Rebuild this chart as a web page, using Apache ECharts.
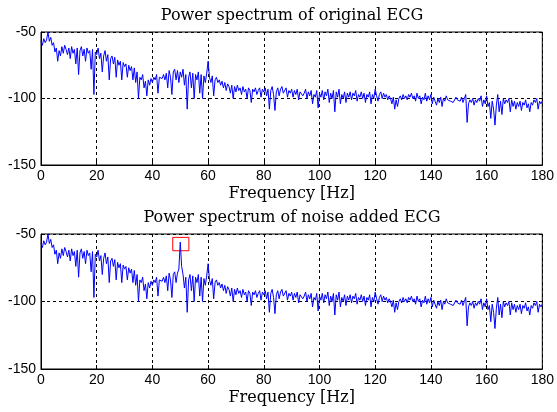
<!DOCTYPE html>
<html>
<head>
<meta charset="utf-8">
<script src="https://cdn.jsdelivr.net/npm/echarts@6/dist/echarts.min.js"></script>
<style>
  html, body { margin: 0; padding: 0; background: #fff; }
  #main { width: 557px; height: 412px; }
</style>
</head>
<body>
<div id="main"></div>
<script>
// power spectrum (dB), one value per 0.5 Hz from 0 to 180 Hz
var freqStep = 0.5;

var originalEcg = [
  -57, -60, -55, -58, -56, -50, -57, -54, -60, -58, -65, -62, -72, -64, -68, -61, -66, -60, -63, -67,
  -62, -70, -61, -66, -63, -74, -62, -82, -64, -61, -68, -63, -72, -62, -66, -64, -78, -63, -97, -65,
  -67, -62, -70, -66, -80, -68, -64, -72, -67, -86, -70, -68, -74, -69, -84, -71, -75, -72, -86, -73,
  -76, -74, -84, -75, -79, -76, -86, -77, -88, -80, -100, -84, -86, -82, -92, -87, -98, -86, -90, -85,
  -88, -84, -86, -82, -96, -84, -83, -85, -82, -86, -81, -92, -79, -84, -97, -80, -78, -86, -79, -88,
  -80, -84, -78, -90, -82, -108, -84, -80, -92, -81, -100, -82, -86, -80, -96, -82, -100, -83, -88, -81,
  -72, -84, -88, -83, -98, -86, -84, -88, -86, -90, -87, -92, -88, -94, -89, -91, -96, -90, -100, -91,
  -95, -90, -94, -92, -97, -91, -95, -93, -100, -92, -94, -103, -93, -95, -92, -97, -94, -92, -99, -93,
  -95, -92, -98, -93, -108, -94, -91, -97, -109, -95, -92, -98, -93, -91, -96, -95, -92, -99, -94, -96,
  -93, -99, -94, -97, -93, -101, -95, -94, -98, -96, -93, -100, -95, -98, -94, -104, -97, -99, -94, -107,
  -96, -99, -94, -101, -95, -98, -93, -103, -96, -100, -94, -110, -95, -99, -93, -104, -97, -100, -95, -103,
  -96, -99, -95, -101, -96, -98, -94, -102, -97, -99, -95, -100, -96, -103, -97, -99, -95, -104, -97, -100,
  -93, -98, -102, -97, -95, -100, -96, -99, -97, -101, -98, -100, -104, -99, -108, -101, -106, -100, -98, -101,
  -97, -100, -98, -101, -97, -99, -96, -100, -98, -102, -96, -100, -98, -104, -99, -101, -96, -102, -98, -101,
  -97, -104, -99, -102, -105, -100, -103, -99, -106, -100, -102, -98, -101, -100, -102, -101, -103, -102, -99, -101,
  -100, -102, -99, -103, -100, -97, -118, -104, -101, -103, -100, -105, -101, -103, -100, -102, -98, -106, -101, -104,
  -98, -106, -103, -115, -102, -108, -120, -105, -97, -110, -102, -112, -100, -104, -101, -103, -100, -110, -101, -106,
  -102, -108, -103, -106, -102, -109, -103, -105, -101, -107, -104, -110, -103, -105, -101, -103, -100, -108, -102, -104,
  -102
];

var noisyEcg = [
  -57, -60, -55, -58, -56, -50, -57, -54, -60, -58, -65, -62, -72, -64, -68, -61, -66, -60, -63, -67,
  -62, -70, -61, -66, -63, -74, -62, -82, -64, -61, -68, -63, -72, -62, -66, -64, -78, -63, -97, -65,
  -67, -62, -70, -66, -80, -68, -64, -72, -67, -86, -70, -68, -74, -69, -84, -71, -75, -72, -86, -73,
  -76, -74, -84, -75, -79, -76, -86, -77, -88, -80, -100, -84, -86, -82, -92, -87, -98, -86, -90, -85,
  -88, -84, -86, -82, -96, -84, -83, -85, -82, -86, -81, -92, -79, -84, -97, -80, -78, -86, -79, -76,
  -56, -74, -80, -90, -82, -108, -84, -80, -92, -81, -100, -82, -86, -80, -96, -82, -100, -83, -88, -81,
  -72, -84, -88, -83, -98, -86, -84, -88, -86, -90, -87, -92, -88, -94, -89, -91, -96, -90, -100, -91,
  -95, -90, -94, -92, -97, -91, -95, -93, -100, -92, -94, -103, -93, -95, -92, -97, -94, -92, -99, -93,
  -95, -92, -98, -93, -108, -94, -91, -97, -109, -95, -92, -98, -93, -91, -96, -95, -92, -99, -94, -96,
  -93, -99, -94, -97, -93, -101, -95, -94, -98, -96, -93, -100, -95, -98, -94, -104, -97, -99, -94, -107,
  -96, -99, -94, -101, -95, -98, -93, -103, -96, -100, -94, -110, -95, -99, -93, -104, -97, -100, -95, -103,
  -96, -99, -95, -101, -96, -98, -94, -102, -97, -99, -95, -100, -96, -103, -97, -99, -95, -104, -97, -100,
  -93, -98, -102, -97, -95, -100, -96, -99, -97, -101, -98, -100, -104, -99, -108, -101, -106, -100, -98, -101,
  -97, -100, -98, -101, -97, -99, -96, -100, -98, -102, -96, -100, -98, -104, -99, -101, -96, -102, -98, -101,
  -97, -104, -99, -102, -105, -100, -103, -99, -106, -100, -102, -98, -101, -100, -102, -101, -103, -102, -99, -101,
  -100, -102, -99, -103, -100, -97, -118, -104, -101, -103, -100, -105, -101, -103, -100, -102, -98, -106, -101, -104,
  -98, -106, -103, -115, -102, -108, -120, -105, -97, -110, -102, -112, -100, -104, -101, -103, -100, -110, -101, -106,
  -102, -108, -103, -106, -102, -109, -103, -105, -101, -107, -104, -110, -103, -105, -101, -103, -100, -108, -102, -104,
  -102
];

// red box around the 50 Hz interference peak (Hz, dB)
var boxHz = [47.3, 53.1];
var boxDb = [-52.5, -62.4];

var titles = ['Power spectrum of original ECG', 'Power spectrum of noise added ECG'];

function toPairs(arr) {
  return arr.map(function (v, i) { return [i * freqStep, v]; });
}

var chartDom = document.getElementById('main');
var myChart = echarts.init(chartDom);

var serif = 'DejaVu Serif';
var sans = 'Liberation Sans';

function xAxisFor(idx) {
  return {
    type: 'value', gridIndex: idx, min: 0, max: 180, interval: 20,
    name: 'Frequency [Hz]', nameLocation: 'middle', nameGap: 21,
    nameTextStyle: { fontFamily: serif, fontSize: 16, color: '#000' },
    axisLine: { lineStyle: { color: '#000' } },
    axisTick: { inside: true, length: 4, lineStyle: { color: '#000' } },
    axisLabel: { fontFamily: sans, fontSize: 14, color: '#000', margin: 4 },
    splitLine: { show: true, lineStyle: { color: '#000', type: [3, 3] } }
  };
}

function yAxisFor(idx) {
  return {
    type: 'value', gridIndex: idx, min: -150, max: -50, interval: 50,
    axisLine: { show: true, lineStyle: { color: '#000' } },
    axisTick: { show: true, inside: true, length: 4, lineStyle: { color: '#000' } },
    axisLabel: { fontFamily: sans, fontSize: 14, color: '#000', margin: 5 },
    splitLine: { show: true, lineStyle: { color: '#000', type: [3, 3] } }
  };
}

var option = {
  backgroundColor: '#fff',
  animation: false,
  title: [
    { text: titles[0], left: 287, top: 3, textAlign: 'center',
      textStyle: { fontFamily: serif, fontSize: 16, fontWeight: 'normal', color: '#000' } },
    { text: titles[1], left: 287, top: 205, textAlign: 'center',
      textStyle: { fontFamily: serif, fontSize: 16, fontWeight: 'normal', color: '#000' } }
  ],
  grid: [
    { left: 41, right: 14, top: 32, height: 133, show: true, borderColor: '#000', borderWidth: 1 },
    { left: 41, right: 14, top: 234, height: 135, show: true, borderColor: '#000', borderWidth: 1 }
  ],
  xAxis: [xAxisFor(0), xAxisFor(1)],
  yAxis: [yAxisFor(0), yAxisFor(1)],
  series: [
    {
      name: 'original', type: 'line', xAxisIndex: 0, yAxisIndex: 0,
      data: toPairs(originalEcg), symbol: 'none',
      lineStyle: { color: '#0000ff', width: 1 }
    },
    {
      name: 'noise added', type: 'line', xAxisIndex: 1, yAxisIndex: 1,
      data: toPairs(noisyEcg), symbol: 'none',
      lineStyle: { color: '#0000ff', width: 1 },
      markArea: {
        silent: true,
        itemStyle: { color: 'rgba(0,0,0,0)', borderColor: '#ff0000', borderWidth: 1 },
        data: [[{ xAxis: boxHz[0], yAxis: boxDb[0] }, { xAxis: boxHz[1], yAxis: boxDb[1] }]]
      }
    }
  ]
};

option && myChart.setOption(option);
</script>
</body>
</html>
